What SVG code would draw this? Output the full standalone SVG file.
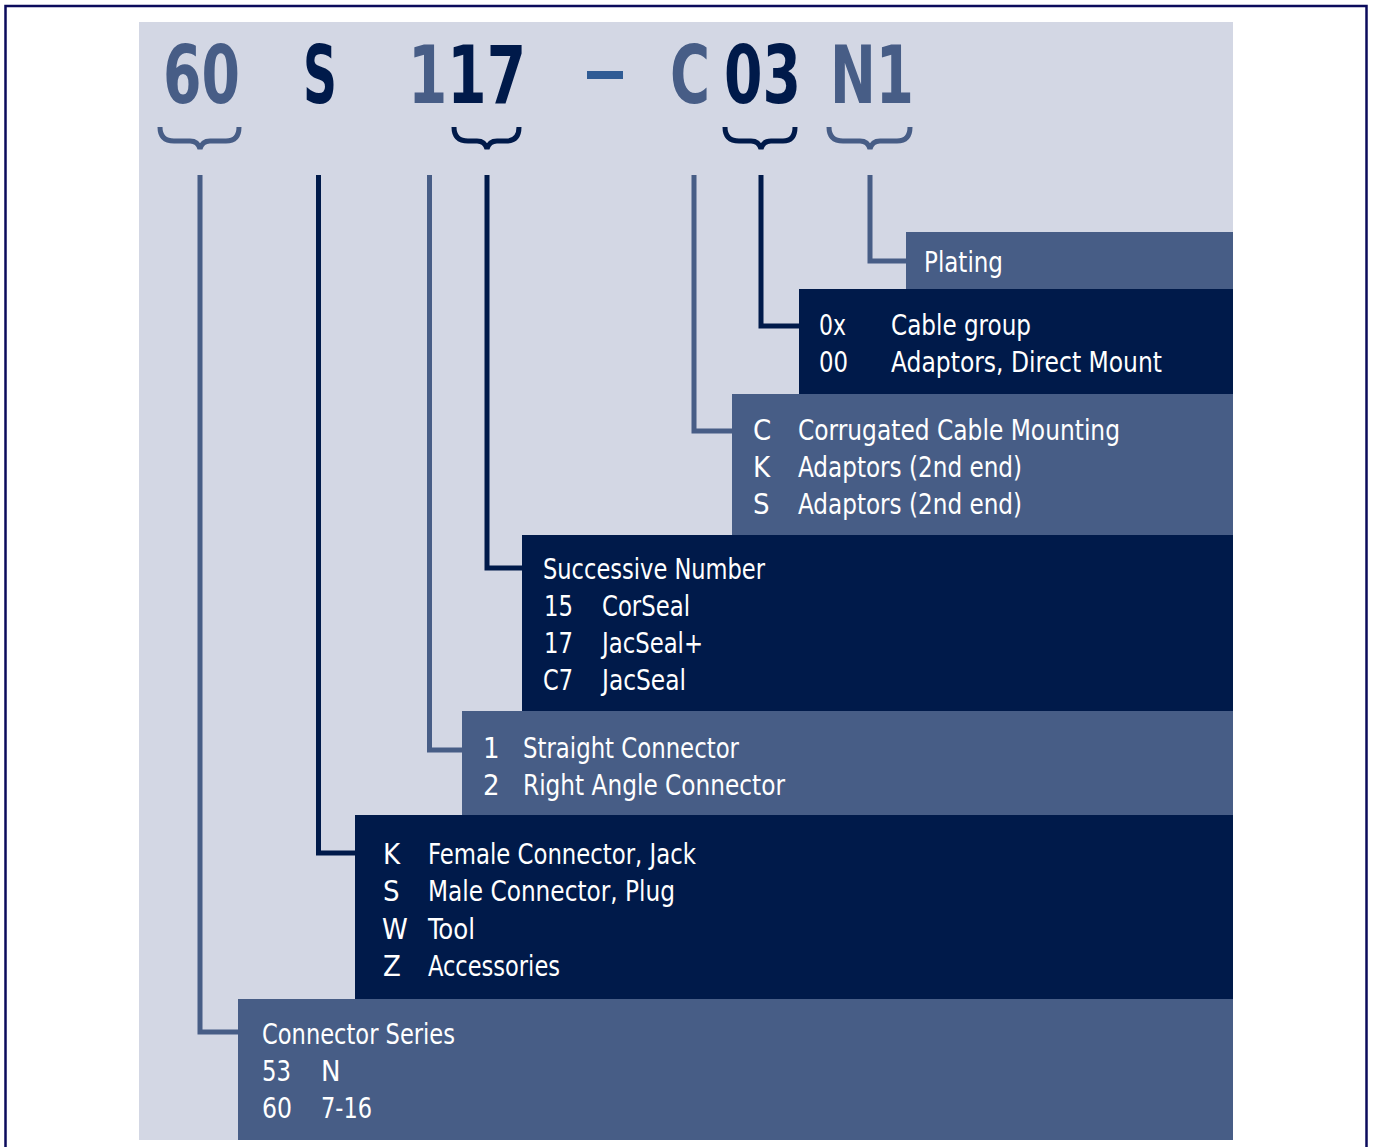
<svg xmlns="http://www.w3.org/2000/svg" width="1374" height="1147" viewBox="0 0 1374 1147">
<style>
text{font-family:"Liberation Sans Narrow","DejaVu Sans Condensed","Liberation Sans",sans-serif;font-stretch:condensed}
.t{fill:#ffffff;font-size:29px}
.h{font-size:81px;font-weight:bold}
.mid{fill:#475d86}
.dk{fill:#001a4a}
.box-mid{fill:#475d86}
.box-dk{fill:#001a4a}
.lm{fill:none;stroke:#475d86;stroke-width:5}
.ld{fill:none;stroke:#001a4a;stroke-width:5}
</style>
<rect x="0" y="0" width="1374" height="1147" fill="#ffffff"/>
<rect x="5.5" y="6" width="1361" height="1160" fill="none" stroke="#0b0b5c" stroke-width="2.5"/>
<rect x="139" y="22" width="1094" height="1118" fill="#d3d7e4"/>

<g id="header">
<text class="h mid" x="163" y="103" textLength="77" lengthAdjust="spacingAndGlyphs">60</text>
<text class="h dk" x="303" y="103" textLength="34" lengthAdjust="spacingAndGlyphs">S</text>
<text class="h" x="408" y="103" textLength="118" lengthAdjust="spacingAndGlyphs"><tspan class="mid">1</tspan><tspan class="dk">17</tspan></text>
<rect x="587" y="71" width="36" height="8" fill="#2f5b94"/>
<text class="h mid" x="670" y="103" textLength="40" lengthAdjust="spacingAndGlyphs">C</text>
<text class="h dk" x="724" y="103" textLength="77" lengthAdjust="spacingAndGlyphs">03</text>
<text class="h mid" x="830" y="103" textLength="84" lengthAdjust="spacingAndGlyphs">N1</text>
<path class="lm" d="M160,127 q0,14 14,14 h16 q8,0 10,8 q2,-8 10,-8 h16 q13,0 13,-14"/>
<path class="ld" d="M454,127 q0,14 14,14 h9 q8,0 10,8 q2,-8 10,-8 h9 q13,0 13,-14"/>
<path class="ld" d="M725,127 q0,14 14,14 h12 q8,0 10,8 q2,-8 10,-8 h12 q12,0 12,-14"/>
<path class="lm" d="M829,127 q0,14 14,14 h17 q8,0 10,8 q2,-8 10,-8 h17 q13,0 13,-14"/>
</g>

<g id="connectors">
<path class="lm" d="M200,175 V1032 H240"/>
<path class="ld" d="M318.5,175 V853 H357"/>
<path class="lm" d="M429.5,175 V750 H464"/>
<path class="ld" d="M487,175 V568 H524"/>
<path class="lm" d="M694,175 V431 H734"/>
<path class="ld" d="M761,175 V326 H801"/>
<path class="lm" d="M870,175 V261 H908"/>
</g>

<g id="plating">
<rect class="box-mid" x="906" y="232" width="327" height="57"/>
<text class="t" x="924" y="272" textLength="79" lengthAdjust="spacingAndGlyphs">Plating</text>
</g>

<g id="cable-group">
<rect class="box-dk" x="799" y="289" width="434" height="105"/>
<text class="t" x="819" y="335" textLength="27" lengthAdjust="spacingAndGlyphs">0x</text>
<text class="t" x="891" y="335" textLength="140" lengthAdjust="spacingAndGlyphs">Cable group</text>
<text class="t" x="819" y="372" textLength="29" lengthAdjust="spacingAndGlyphs">00</text>
<text class="t" x="891" y="372" textLength="271" lengthAdjust="spacingAndGlyphs">Adaptors, Direct Mount</text>
</g>

<g id="mounting">
<rect class="box-mid" x="732" y="394" width="501" height="141"/>
<text class="t" x="753" y="440">C</text>
<text class="t" x="798" y="440" textLength="322" lengthAdjust="spacingAndGlyphs">Corrugated Cable Mounting</text>
<text class="t" x="753" y="477">K</text>
<text class="t" x="798" y="477" textLength="224" lengthAdjust="spacingAndGlyphs">Adaptors (2nd end)</text>
<text class="t" x="753" y="514">S</text>
<text class="t" x="798" y="514" textLength="224" lengthAdjust="spacingAndGlyphs">Adaptors (2nd end)</text>
</g>

<g id="successive-number">
<rect class="box-dk" x="522" y="535" width="711" height="176"/>
<text class="t" x="543" y="579" textLength="222" lengthAdjust="spacingAndGlyphs">Successive Number</text>
<text class="t" x="544" y="616" textLength="29" lengthAdjust="spacingAndGlyphs">15</text>
<text class="t" x="602" y="616" textLength="88" lengthAdjust="spacingAndGlyphs">CorSeal</text>
<text class="t" x="544" y="653" textLength="29" lengthAdjust="spacingAndGlyphs">17</text>
<text class="t" x="602" y="653" textLength="101" lengthAdjust="spacingAndGlyphs">JacSeal+</text>
<text class="t" x="543" y="690" textLength="30" lengthAdjust="spacingAndGlyphs">C7</text>
<text class="t" x="602" y="690" textLength="84" lengthAdjust="spacingAndGlyphs">JacSeal</text>
</g>

<g id="shape">
<rect class="box-mid" x="462" y="711" width="771" height="104"/>
<text class="t" x="483" y="758">1</text>
<text class="t" x="523" y="758" textLength="216" lengthAdjust="spacingAndGlyphs">Straight Connector</text>
<text class="t" x="483" y="795">2</text>
<text class="t" x="523" y="795" textLength="262" lengthAdjust="spacingAndGlyphs">Right Angle Connector</text>
</g>

<g id="gender">
<rect class="box-dk" x="355" y="815" width="878" height="184"/>
<text class="t" x="383" y="864">K</text>
<text class="t" x="428" y="864" textLength="268" lengthAdjust="spacingAndGlyphs">Female Connector, Jack</text>
<text class="t" x="383" y="901">S</text>
<text class="t" x="428" y="901" textLength="247" lengthAdjust="spacingAndGlyphs">Male Connector, Plug</text>
<text class="t" x="382" y="939">W</text>
<text class="t" x="428" y="939" textLength="47" lengthAdjust="spacingAndGlyphs">Tool</text>
<text class="t" x="383" y="976">Z</text>
<text class="t" x="428" y="976" textLength="132" lengthAdjust="spacingAndGlyphs">Accessories</text>
</g>

<g id="series">
<rect class="box-mid" x="238" y="999" width="995" height="141"/>
<text class="t" x="262" y="1044" textLength="193" lengthAdjust="spacingAndGlyphs">Connector Series</text>
<text class="t" x="262" y="1081" textLength="29" lengthAdjust="spacingAndGlyphs">53</text>
<text class="t" x="321" y="1081">N</text>
<text class="t" x="262" y="1118" textLength="30" lengthAdjust="spacingAndGlyphs">60</text>
<text class="t" x="321" y="1118" textLength="51" lengthAdjust="spacingAndGlyphs">7-16</text>
</g>
</svg>
